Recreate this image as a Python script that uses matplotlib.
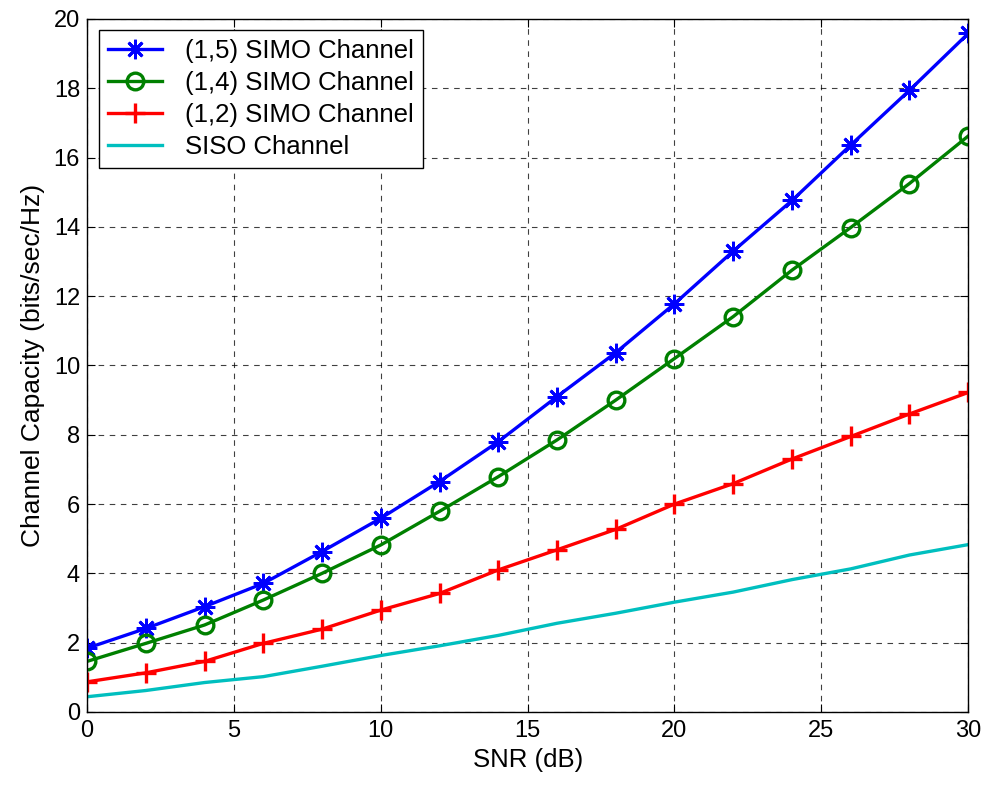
import matplotlib
matplotlib.use("Agg")
import matplotlib.pyplot as plt
import numpy as np

snr_db = np.arange(0, 31, 2)

# capacity values (bits/sec/Hz) for each receive configuration
cap_simo_15 = [1.84, 2.41, 3.04, 3.71, 4.63, 5.59, 6.65, 7.80, 9.10, 10.37,
               11.78, 13.30, 14.76, 16.36, 17.94, 19.58]
cap_simo_14 = [1.46, 1.98, 2.51, 3.23, 4.00, 4.82, 5.79, 6.79, 7.85, 9.00,
               10.20, 11.41, 12.75, 13.98, 15.25, 16.62]
cap_simo_12 = [0.87, 1.13, 1.46, 1.98, 2.39, 2.94, 3.42, 4.10, 4.68, 5.27,
               6.00, 6.59, 7.30, 7.95, 8.60, 9.22]
cap_siso = [0.44, 0.62, 0.85, 1.02, 1.32, 1.63, 1.91, 2.21, 2.56, 2.85,
            3.17, 3.46, 3.82, 4.13, 4.53, 4.83]

legend_labels = ["(1,5) SIMO Channel", "(1,4) SIMO Channel",
                 "(1,2) SIMO Channel", "SISO Channel"]

plt.rcParams['font.family'] = ['Liberation Sans', 'DejaVu Sans']
plt.rcParams['font.size'] = 17

fig = plt.figure(figsize=(9.89, 7.87), dpi=100)
ax = fig.add_axes([0.088, 0.0953, 0.891, 0.8807])

# asterisk marker: plus and cross laid over each other (8 spokes)
asterisk = (8, 2, 0)

ax.plot(snr_db, cap_simo_15, color=(0, 0, 1), lw=2.4, marker=asterisk,
        ms=14, mew=2.0, label=legend_labels[0])
ax.plot(snr_db, cap_simo_14, color=(0, 0.5, 0), lw=2.4, marker='o',
        ms=12, mew=2.4, mfc='none', label=legend_labels[1])
ax.plot(snr_db, cap_simo_12, color=(1, 0, 0), lw=2.4, marker='+',
        ms=14, mew=2.4, label=legend_labels[2])
ax.plot(snr_db, cap_siso, color=(0, 0.75, 0.75), lw=2.4,
        label=legend_labels[3])

ax.set_xlim(0, 30)
ax.set_ylim(0, 20)
ax.set_xticks(np.arange(0, 31, 5))
ax.set_yticks(np.arange(0, 21, 2))
ax.grid(True, color='black', linestyle=(0, (5, 5)), linewidth=0.8, alpha=0.75)
ax.tick_params(direction='in', top=True, right=True, length=6)
ax.tick_params(axis='x', pad=6)
ax.tick_params(axis='y', pad=5)
for s in ax.spines.values():
    s.set_linewidth(1.0)

ax.set_xlabel("SNR (dB)", fontsize=18.5, labelpad=4)
ax.set_ylabel("Channel Capacity (bits/sec/Hz)", fontsize=19, labelpad=6)

leg = ax.legend(loc='upper left', fancybox=False, edgecolor='black',
                framealpha=1, borderpad=0.35, labelspacing=0.3,
                handlelength=2.1, handletextpad=0.9, borderaxespad=0.45,
                fontsize=18.5)
leg.get_frame().set_linewidth(1.0)

fig.savefig("out.png", dpi=100)
